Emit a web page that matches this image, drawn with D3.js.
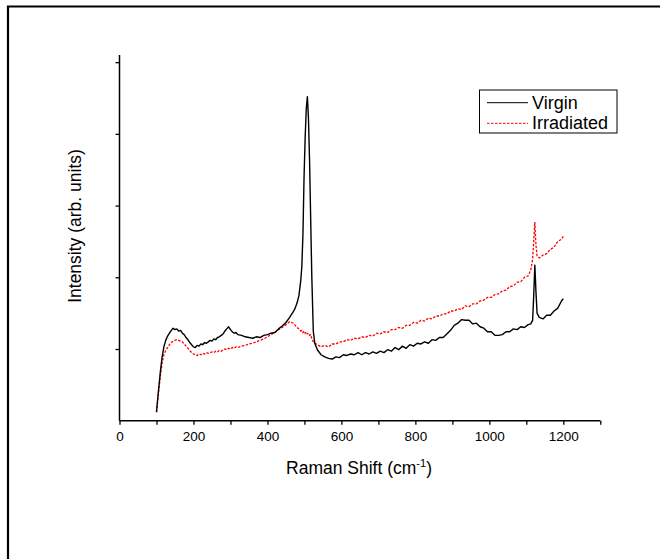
<!DOCTYPE html>
<html>
<head>
<meta charset="utf-8">
<script src="https://cdn.jsdelivr.net/npm/d3@7/dist/d3.min.js"></script>
<style>
  html, body { margin: 0; padding: 0; background: #fff; }
  svg { display: block; }
  text { font-family: "Liberation Sans", Arial, sans-serif; fill: #000; }
</style>
</head>
<body>
<svg id="chart" width="660" height="559"></svg>
<script>
// Raman shift (cm^-1) sample positions
const shifts = [
  100,105,110,115,120,125,130,135,140,145,150,155,160,165,170,175,180,185,190,195,
  200,205,210,215,220,225,230,235,240,245,250,255,260,265,270,275,280,285,290,295,
  300,305,310,315,320,330,340,350,360,370,380,390,400,410,420,430,440,450,460,470,
  475,480,485,490,493,496,499,502,505,508,511,514,517,520,524,528,535,545,555,565,
  575,585,595,605,615,625,635,645,655,665,675,685,695,705,715,725,735,745,755,765,
  775,785,795,805,815,825,835,845,855,865,875,885,895,905,915,925,935,945,955,965,
  975,985,995,1005,1015,1025,1035,1045,1055,1065,1075,1085,1095,1105,1112,1117,1120,1123,1126,1129,
  1135,1145,1155,1165,1175,1185,1195,1200
];
// Virgin intensity (arb. units)
const virgin = [
  0.12,0.40,0.66,0.88,1.03,1.12,1.18,1.22,1.26,1.29,1.27,1.28,1.25,1.26,1.22,1.20,1.16,1.13,1.09,1.06,
  1.03,1.02,1.05,1.04,1.07,1.06,1.09,1.08,1.10,1.12,1.11,1.14,1.13,1.16,1.17,1.19,1.21,1.25,1.28,1.31,
  1.27,1.24,1.22,1.23,1.20,1.19,1.17,1.16,1.15,1.17,1.16,1.19,1.20,1.22,1.23,1.28,1.32,1.37,1.44,1.52,
  1.57,1.64,1.74,1.95,2.15,2.60,3.40,3.95,4.35,4.52,4.20,3.60,2.80,2.00,1.25,1.08,0.99,0.92,0.89,0.87,
  0.86,0.89,0.88,0.92,0.91,0.93,0.92,0.95,0.92,0.95,0.93,0.96,0.94,0.97,0.95,0.99,0.97,1.02,0.99,1.04,
  1.01,1.06,1.04,1.08,1.07,1.10,1.08,1.13,1.12,1.16,1.16,1.21,1.26,1.33,1.36,1.41,1.40,1.40,1.35,1.36,
  1.31,1.29,1.24,1.24,1.19,1.19,1.20,1.24,1.24,1.28,1.27,1.31,1.30,1.34,1.35,1.40,1.75,2.17,1.80,1.50,
  1.44,1.42,1.47,1.47,1.53,1.57,1.67,1.70
];
// Irradiated intensity (arb. units)
const irradiated = [
  0.12,0.36,0.60,0.80,0.92,0.98,1.02,1.06,1.09,1.11,1.12,1.13,1.12,1.11,1.10,1.07,1.04,1.01,0.98,0.95,
  0.93,0.92,0.91,0.93,0.92,0.94,0.93,0.95,0.94,0.95,0.96,0.95,0.97,0.96,0.98,0.97,0.99,1.00,0.99,1.01,
  1.00,1.02,1.01,1.03,1.02,1.04,1.05,1.07,1.08,1.10,1.12,1.14,1.17,1.20,1.23,1.27,1.30,1.34,1.38,1.36,
  1.33,1.30,1.28,1.25,1.26,1.23,1.25,1.22,1.24,1.21,1.22,1.19,1.20,1.14,1.10,1.08,1.06,1.03,1.05,1.03,
  1.07,1.07,1.10,1.10,1.13,1.12,1.15,1.14,1.17,1.16,1.19,1.18,1.22,1.21,1.24,1.23,1.27,1.27,1.30,1.29,
  1.33,1.33,1.37,1.36,1.40,1.39,1.43,1.42,1.46,1.46,1.49,1.49,1.53,1.53,1.56,1.55,1.60,1.59,1.63,1.63,
  1.67,1.68,1.72,1.72,1.76,1.77,1.81,1.82,1.87,1.88,1.93,1.94,2.00,2.02,2.10,2.25,2.50,2.77,2.45,2.30,
  2.27,2.31,2.33,2.39,2.42,2.50,2.53,2.57
];
const xTicks = [0,100,200,300,400,500,600,700,800,900,1000,1100,1200,1300];
const xTickLabels = ["0","","200","","400","","600","","800","","1000","","1200",""];
const yTicks = [1,2,3,4,5];
const seriesNames = ["Virgin","Irradiated"];
const seriesColors = ["#000000","#ff0000"];

const svg = d3.select("#chart");

// outer frame (top and left edges)
svg.append("path")
  .attr("d", "M8,559 L8,6.5 L660,6.5")
  .attr("fill","none").attr("stroke","#000").attr("stroke-width",2.2);

const x = d3.scaleLinear().domain([0,1300]).range([119.5,600.3]);
const y = d3.scaleLinear().domain([0,5.1]).range([420.7,55]);

// x axis
const gx = svg.append("g").attr("transform","translate(0,420.7)")
  .call(d3.axisBottom(x).tickValues(xTicks).tickSize(4).tickPadding(7)
    .tickFormat((d,i)=>xTickLabels[i]));
gx.select(".domain").attr("stroke-width",1.5).attr("d", `M${x(0)},0H${x(1300)}`);
gx.selectAll(".tick line").attr("stroke-width",1.3);
gx.selectAll(".tick text").style("font-size","13.5px").style("font-family","'Liberation Sans', Arial, sans-serif");

// y axis
const gy = svg.append("g").attr("transform","translate(119.5,0)")
  .call(d3.axisLeft(y).tickValues(yTicks).tickSize(4).tickFormat(""));
gy.select(".domain").attr("stroke-width",1.5).attr("d", `M0,${y(0)}V${y(5.1)}`);
gy.selectAll(".tick line").attr("stroke-width",1.3);

// titles
const xt = svg.append("text").attr("x",359).attr("y",474).attr("text-anchor","middle")
  .style("font-size","17.5px");
xt.append("tspan").text("Raman Shift (cm");
xt.append("tspan").attr("dy",-7).style("font-size","11px").text("-1");
xt.append("tspan").attr("dy",7).text(")");

svg.append("text").attr("transform","translate(81,226) rotate(-90)")
  .attr("text-anchor","middle").style("font-size","17.5px")
  .text("Intensity (arb. units)");

// series
const line = d3.line().x((d)=>x(d[0])).y((d)=>y(d[1]));
const vData = shifts.map((s,i)=>[s, virgin[i]]);
const rData = shifts.map((s,i)=>[s, irradiated[i]]);

svg.append("path").datum(rData).attr("d",line)
  .attr("fill","none").attr("stroke",seriesColors[1]).attr("stroke-width",1.3)
  .attr("stroke-dasharray","2.5,1.5");
svg.append("path").datum(vData).attr("d",line)
  .attr("fill","none").attr("stroke",seriesColors[0]).attr("stroke-width",1.4)
  .attr("stroke-linejoin","round");

// legend
const lg = svg.append("g");
lg.append("rect").attr("x",479.5).attr("y",90).attr("width",137.5).attr("height",43)
  .attr("fill","#fff").attr("stroke","#000").attr("stroke-width",1);
seriesNames.forEach((n,i)=>{
  const ly = i===0 ? 102.7 : 123.3;
  lg.append("line").attr("x1",487).attr("x2",528).attr("y1",ly).attr("y2",ly)
    .attr("stroke", seriesColors[i]).attr("stroke-width",1)
    .attr("stroke-dasharray", i===0 ? null : "2.5,1.5");
  lg.append("text").attr("x",532).attr("y",ly+6).style("font-size","18px").text(n);
});
</script>
</body>
</html>
